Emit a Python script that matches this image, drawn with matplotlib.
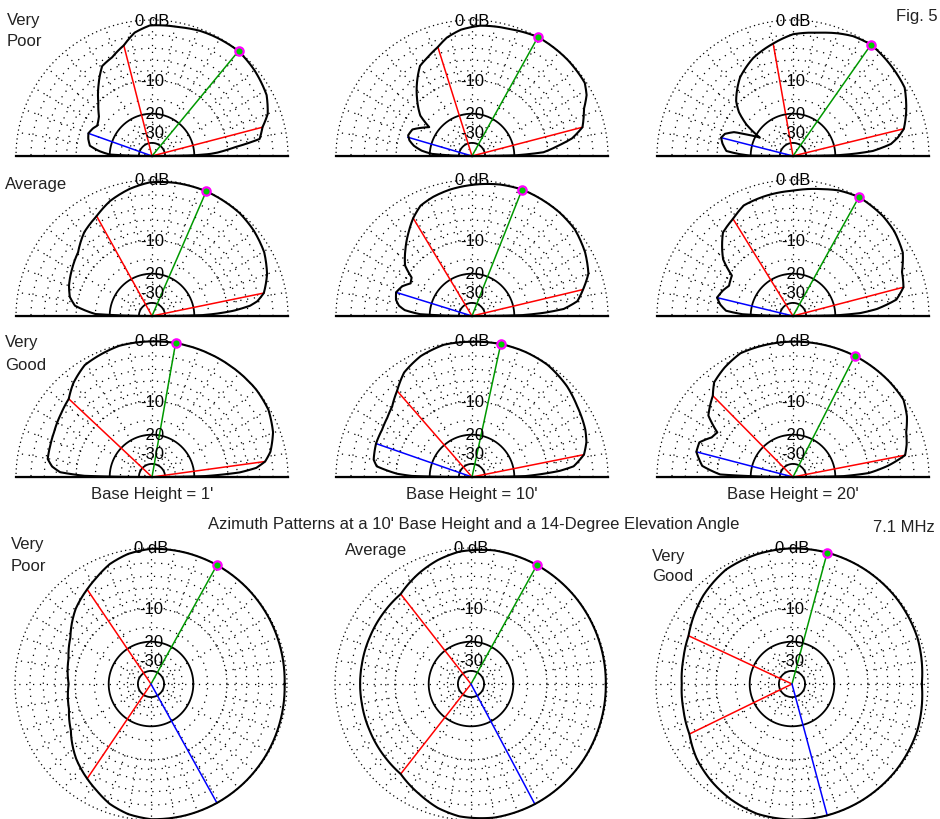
import numpy as np
import matplotlib
matplotlib.use("Agg")
import matplotlib.pyplot as plt

plt.rcParams['font.family'] = ['Liberation Sans', 'DejaVu Sans']

# ---------------- data: angle (deg) and field (dB relative to max) ----------------
NULL = -120.0
heights = ["1'", "10'", "20'"]

# Elevation patterns, row 1: Very Poor ground
el_vp1_ang = [0, 1, 2, 3, 6, 9, 14.6, 20, 28, 40, 50.5, 63, 69, 78, 91, 98, 104.3, 112, 119, 127, 135, 143, 147, 151, 155, 160.4, 165, 170.6, 174.5, 178, 180]
el_vp1_db = [NULL, -20, -14.6, -12.5, -8.5, -3.8, -3.0, -1.7, -0.8, -0.3, 0, -0.15, -0.25, -0.55, -0.7, -1.5, -3.0, -4.2, -4.8, -7.3, -10.0, -12.3, -12.9, -13.3, -12.6, -12.0, -12.4, -13.2, -16.0, -20, NULL]
el_vp1_cur = [14.6, 104.3, 50.5, 160.4]          # red, red, green, blue angles
el_vp1_blue_db = -12.0

el_vp10_ang = [0, 1, 3, 6.8, 10, 14.6, 20, 23, 28, 33, 45, 61, 73, 86.5, 95, 102, 107.4, 114, 120, 127, 134, 142, 146, 150, 156, 162, 166, 170, 174, 177, 180]
el_vp10_db = [NULL, -19, -11, -7.7, -5.0, -3.0, -2.3, -1.9, -0.8, -0.2, -0.05, 0, -0.44, -0.7, -1.2, -2.0, -3.0, -3.9, -4.6, -6.8, -9.3, -12.5, -16.6, -15.0, -12.6, -12.1, -12.8, -14.3, -17, -21, NULL]
el_vp10_cur = [14.6, 107.4, 61, 163.7]
el_vp10_blue_db = -12.2

el_vp20_ang = [0, 1, 2, 3.6, 7, 10, 13.8, 21.6, 31.5, 41.4, 55, 63.4, 70, 77.8, 90, 100, 112, 124, 136, 141, 146, 151, 155, 158, 162, 165.7, 170, 175.7, 178, 179.5, 180]
el_vp20_db = [NULL, -19, -14, -9.1, -5.5, -4.2, -3.0, -1.9, -0.65, -0.38, 0, -0.25, -0.7, -1.3, -1.9, -3.0, -4.3, -6.2, -9.3, -11.5, -15.2, -21.9, -17, -13, -11, -10.4, -11, -12.2, -16, -20, NULL]
el_vp20_cur = [13.8, 100, 55, 165.7]
el_vp20_blue_db = -10.4

# row 2: Average ground
el_av1_ang = [0, 1, 2, 3.7, 6, 8, 11.6, 20, 29.6, 40, 49.7, 66.5, 80, 91, 100, 110, 119, 129, 139.3, 150, 160, 167, 172.4, 178, 180]
el_av1_db = [NULL, -17, -13, -8.7, -5.5, -4.2, -3.0, -1.8, -0.9, -0.4, -0.1, 0, -0.1, -0.3, -0.9, -1.8, -3.0, -4.0, -5.7, -6.6, -7.4, -8.2, -9.6, -15, NULL]
el_av1_cur = [11.6, 119, 66.5]

el_av10_ang = [0, 1, 2.5, 4.4, 8, 13.4, 20, 29.4, 40, 50, 68.4, 78, 86.5, 100, 108, 115, 121, 127, 135, 143, 147.5, 152, 157, 162.7, 168, 172, 175, 178, 180]
el_av10_db = [NULL, -17, -11, -6.7, -4.2, -3.0, -1.6, -0.8, -0.2, -0.05, 0, -0.2, -0.5, -1.0, -1.4, -1.9, -3.0, -4.4, -6.3, -8.3, -11.0, -11.5, -10.0, -9.2, -9.6, -10.5, -12, -16.5, NULL]
el_av10_cur = [13.4, 121, 68.4, 162.7]
el_av10_blue_db = -9.2

el_av20_ang = [0, 1, 2.5, 4.8, 9, 14.6, 22, 30, 40, 48, 61, 70, 77, 90, 103, 114, 121.7, 130, 141, 146.5, 154.7, 160, 166.4, 171, 175.5, 178, 180]
el_av20_db = [NULL, -19, -12, -8.2, -4.5, -3.0, -2.5, -1.2, -0.5, -0.2, 0, -0.3, -0.75, -1.4, -1.7, -2.0, -3.0, -3.8, -7.1, -10.6, -11.2, -10.3, -9.5, -10.5, -12.1, -17, NULL]
el_av20_cur = [14.6, 121.7, 61, 166.4]
el_av20_blue_db = -9.5

# row 3: Very Good ground
el_vg1_ang = [0, 1, 3, 5, 7.8, 12, 20.3, 30, 40, 60, 80, 90, 104, 121, 130, 136.8, 145, 155.5, 163, 170.2, 174, 177, 179, 180]
el_vg1_db = [NULL, -16, -7.5, -4.5, -3.0, -2.0, -0.9, -0.2, 0, 0, 0, -0.05, -0.1, -0.7, -1.8, -3.0, -3.5, -4.0, -4.2, -4.3, -5.2, -6.7, -12, NULL]
el_vg1_cur = [7.8, 136.8, 80]

el_vg10_ang = [0, 1, 2.6, 4, 6, 11.3, 17, 22.7, 34, 43.6, 56, 67, 77.8, 90, 102, 113, 123, 131, 138.6, 145, 152.3, 160.8, 170, 173.6, 177.5, 179, 180]
el_vg10_db = [NULL, -16, -11, -7.5, -4.9, -3.0, -2.2, -1.75, -1.2, -0.6, -0.1, 0, 0, -0.1, -0.1, -0.6, -1.5, -3.0, -4.2, -4.7, -5.0, -5.0, -5.3, -6.0, -10.2, -14, NULL]
el_vg10_cur = [11.3, 131, 77.8, 160.8]
el_vg10_blue_db = -5.0

el_vg20_ang = [0, 1, 3, 6.8, 11, 16, 21.6, 28, 35, 45, 63, 80, 95, 113, 122, 129.8, 134.6, 144, 149.5, 154, 159.7, 165.4, 173, 178, 180]
el_vg20_db = [NULL, -17, -10, -6.0, -3.0, -2.4, -1.9, -0.9, -0.15, -0.05, 0, -0.05, -0.1, -0.2, -0.9, -1.7, -3.0, -4.5, -7.5, -7.0, -5.3, -5.3, -6.8, -10.7, NULL]
el_vg20_cur = [11, 134.6, 63, 165.4]
el_vg20_blue_db = -5.3

# Azimuth patterns at 14 deg elevation, 10' base height
az_vp_ang = [0, 15, 30, 45, 61, 75, 90, 100, 109, 117, 124, 135, 150, 163, 180, 197, 210, 225, 236, 243, 251, 260, 270, 285, 299, 315, 330, 345, 360]
az_vp_db = [-0.3, -0.2, -0.1, -0.03, 0, -0.02, -0.1, -0.5, -1.2, -2.2, -3.0, -4.2, -6.5, -7.8, -8.6, -7.9, -6.6, -4.3, -3.0, -2.2, -1.2, -0.5, -0.1, -0.02, 0, -0.03, -0.1, -0.2, -0.3]
az_vp_cur = [124, 236, 61, 299]
az_vp_blue_db = 0.0

az_av_ang = [0, 20, 40, 61, 80, 95, 105, 115, 128, 140, 155, 170, 180, 190, 205, 220, 232, 245, 255, 265, 280, 298, 320, 340, 360]
az_av_db = [-0.15, -0.1, -0.03, 0, -0.05, -0.4, -1.0, -1.8, -3.0, -3.2, -3.4, -3.5, -3.5, -3.5, -3.4, -3.2, -3.0, -1.9, -1.0, -0.4, -0.05, 0, -0.03, -0.1, -0.15]
az_av_cur = [128, 232, 61, 298]
az_av_blue_db = 0.0

az_vg_ang = [0, 20, 40, 60, 75, 90, 105, 120, 135, 150, 155, 167, 180, 193, 206, 218, 230, 242, 255, 270, 285, 300, 320, 340, 360]
az_vg_db = [-0.8, -0.3, -0.1, -0.02, 0, -0.05, -0.2, -0.5, -1.4, -2.6, -3.0, -3.4, -3.6, -3.4, -3.0, -2.0, -1.3, -0.7, -0.2, -0.05, 0, -0.02, -0.1, -0.3, -0.8]
az_vg_cur = [155, 206, 75, 285]
az_vg_blue_db = 0.0

ring_dotted = [0, -10, -30]
ring_minor = [-2, -4, -6, -8, -15, -25, -35, -50]
ring_solid = [-20, -40]
ring_labels = {0: '0 dB', -10: '-10', -20: '-20', -30: '-30'}

# ---------------- figure ----------------
W, H = 940, 820
fig = plt.figure(figsize=(W / 100, H / 100), dpi=100)
R = 136
FS = 12


def fwd(d):
    return 0.89 ** (-np.asarray(d, dtype=float) / 2.0)


def inv(r):
    r = np.clip(np.asarray(r, dtype=float), 1e-12, None)
    return -2.0 * np.log(r) / np.log(0.89)


def make_ax(cx, cy, half):
    left = (cx - R) / W
    bottom = (H - cy - (0.5 * R if half else R)) / H
    ax = fig.add_axes([left, bottom, 2 * R / W, 2 * R / H], projection='polar')
    ax.set_rscale('function', functions=(fwd, inv))
    if half:
        ax.set_thetamin(0)
        ax.set_thetamax(180)
    ax.set_rlim(NULL, 0)
    ax.grid(False)
    ax.set_xticks([])
    ax.set_yticks([])
    for sp in ax.spines.values():
        sp.set_visible(False)
    ax.patch.set_visible(False)
    return ax


def draw_grid(ax, half):
    tmax = np.pi if half else 2 * np.pi
    th = np.linspace(0, tmax, 721)
    for lv in ring_dotted:
        ax.plot(th, np.full(th.shape, lv), color='k', lw=0.9, ls=(0, (1, 2.6)), clip_on=False)
    for lv in ring_minor:
        ax.plot(th, np.full(th.shape, lv), color='k', lw=0.9, ls=(0, (1, 4.5)), clip_on=False)
    for lv in ring_solid:
        ax.plot(th, np.full(th.shape, lv), color='k', lw=1.3, clip_on=False)
    angs = np.arange(10, 180, 10) if half else np.arange(0, 360, 10)
    for a in angs:
        t = np.deg2rad(a)
        ax.plot([t, t], [-10, 0], color='k', lw=0.9, ls=(0, (1, 4.5)), clip_on=False)
        if a % 30 == 0:
            ax.plot([t, t], [-40, -10], color='k', lw=0.9, ls=(0, (1, 4.5)), clip_on=False)
    if half:
        for t in (0, np.pi):
            ax.plot([t, t], [NULL, 0], color='k', lw=1.6, clip_on=False)
    for lv, s in ring_labels.items():
        ax.text(np.pi / 2, lv, s, ha='center', va='center', fontsize=FS, zorder=5)


def draw_pattern(ax, ang, db, cur, blue_db):
    ln, = ax.plot(np.deg2rad(ang), db, color='k', lw=1.5, clip_on=False, zorder=4)
    # let the polar projection draw each segment as a smooth arc
    ln.get_path()._interpolation_steps = 12
    for a in cur[:2]:
        t = np.deg2rad(a)
        ax.plot([t, t], [NULL, -3.0], color='#ff0000', lw=1.1, clip_on=False, zorder=3)
    tg = np.deg2rad(cur[2])
    ax.plot([tg, tg], [NULL, 0.0], color='#009900', lw=1.1, clip_on=False, zorder=3)
    if len(cur) > 3:
        tb = np.deg2rad(cur[3])
        ax.plot([tb, tb], [NULL, blue_db], color='#0000ff', lw=1.1, clip_on=False, zorder=3)
    ax.plot([tg], [0.0], marker='o', ms=6, mfc='#00cc00', mec='#ff00ff', mew=1.6,
            clip_on=False, zorder=6)


el_sets = [
    (el_vp1_ang, el_vp1_db, el_vp1_cur, el_vp1_blue_db),
    (el_vp10_ang, el_vp10_db, el_vp10_cur, el_vp10_blue_db),
    (el_vp20_ang, el_vp20_db, el_vp20_cur, el_vp20_blue_db),
    (el_av1_ang, el_av1_db, el_av1_cur, None),
    (el_av10_ang, el_av10_db, el_av10_cur, el_av10_blue_db),
    (el_av20_ang, el_av20_db, el_av20_cur, el_av20_blue_db),
    (el_vg1_ang, el_vg1_db, el_vg1_cur, None),
    (el_vg10_ang, el_vg10_db, el_vg10_cur, el_vg10_blue_db),
    (el_vg20_ang, el_vg20_db, el_vg20_cur, el_vg20_blue_db),
]
col_x = [152, 472, 793]
row_y = [157, 317, 478]

for i, (ang, db, cur, bdb) in enumerate(el_sets):
    r, c = divmod(i, 3)
    ax = make_ax(col_x[c], row_y[r], True)
    draw_grid(ax, True)
    draw_pattern(ax, ang, db, cur, bdb)

az_sets = [
    (az_vp_ang, az_vp_db, az_vp_cur, az_vp_blue_db),
    (az_av_ang, az_av_db, az_av_cur, az_av_blue_db),
    (az_vg_ang, az_vg_db, az_vg_cur, az_vg_blue_db),
]
az_x = [151, 471, 792]
az_y = 685
for i, (ang, db, cur, bdb) in enumerate(az_sets):
    ax = make_ax(az_x[i], az_y, False)
    draw_grid(ax, False)
    draw_pattern(ax, ang, db, cur, bdb)


def ftext(x, y, s, ha='left'):
    fig.text(x / W, 1 - y / H, s, ha=ha, va='center', fontsize=FS, color='#222222')


ftext(7, 21, 'Very'); ftext(7, 42, 'Poor')
ftext(5, 185, 'Average')
ftext(5, 343, 'Very'); ftext(5, 366, 'Good')
ftext(938, 16, 'Fig. 5', ha='right')
for x, h in zip(col_x, heights):
    ftext(x, 495, 'Base Height = ' + h, ha='center')
ftext(474, 525, "Azimuth Patterns at a 10' Base Height and a 14-Degree Elevation Angle", ha='center')
ftext(935, 527, '7.1 MHz', ha='right')
ftext(11, 545, 'Very'); ftext(11, 567, 'Poor')
ftext(345, 551, 'Average')
ftext(652, 556, 'Very'); ftext(652, 577, 'Good')

fig.savefig('out.png', dpi=100)
